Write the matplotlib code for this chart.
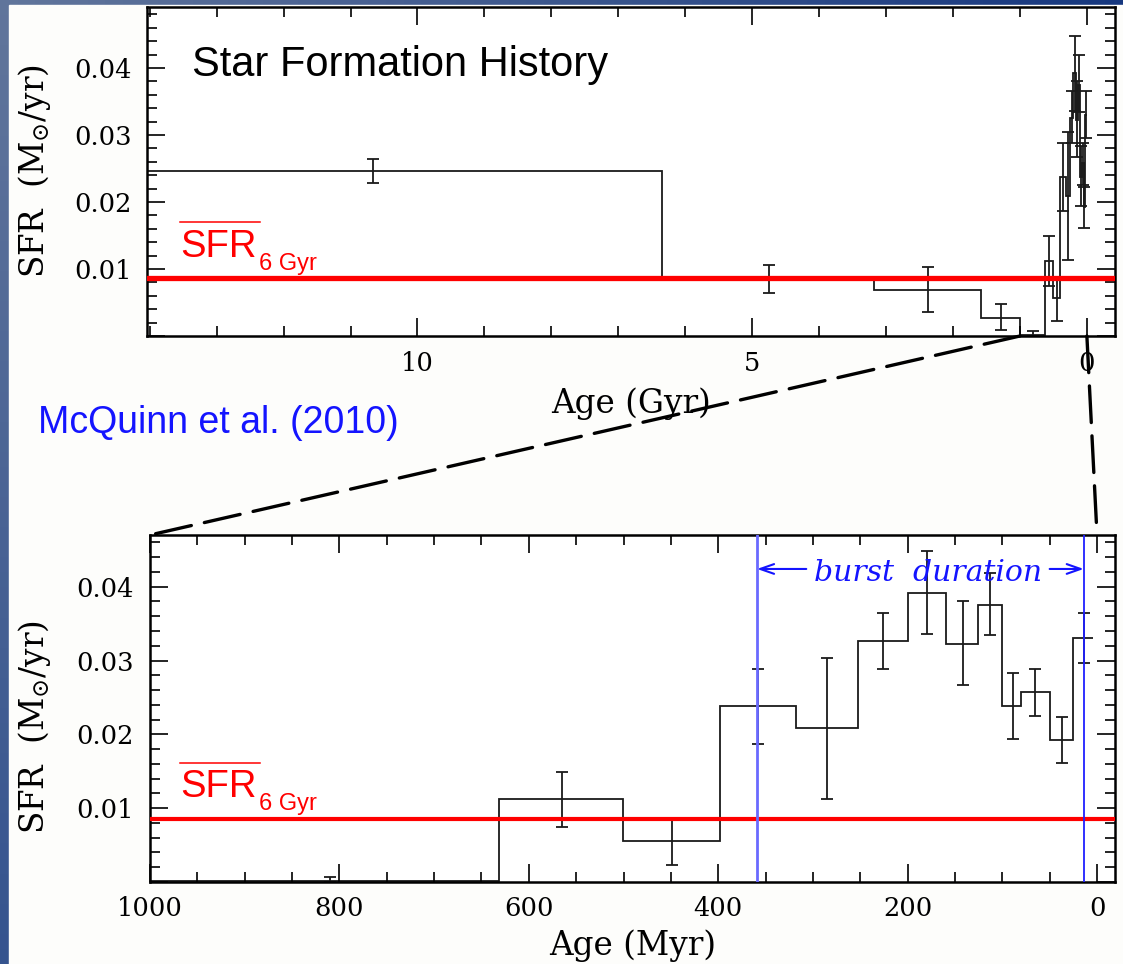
import numpy as np
import matplotlib
matplotlib.use("Agg")
import matplotlib.pyplot as plt
from matplotlib.patches import Rectangle, ConnectionPatch
from matplotlib.lines import Line2D
from matplotlib.ticker import MultipleLocator, FuncFormatter

plt.rcParams["font.family"] = ["DejaVu Serif"]

W, H = 1123, 964

# --- data --------------------------------------------------------------------
# old bins (Gyr), oldest first; the last one ends at 1 Gyr where the recent bins start
old_edges = [14.1, 6.34, 3.18, 1.58]
old_sfr = [0.0246, 0.0087, 0.0069, 0.0027]
old_err_age = [10.67, 4.75, 2.37, 1.28]
old_err_lo = [0.0228, 0.0064, 0.0036, 0.0009]
old_err_hi = [0.0264, 0.0106, 0.0103, 0.0048]

# recent bins (Myr)
recent_edges = [1000, 631, 501, 398, 318, 252, 200, 159, 126, 100, 80, 50, 25, 4]
recent_sfr = [0.0002, 0.0112, 0.0056, 0.0238, 0.0209, 0.0326, 0.0392,
              0.0323, 0.0375, 0.0238, 0.0258, 0.0193, 0.0330]
recent_err_age = [810, 565, 449, 358, 285, 226, 180, 142, 113, 89, 65, 37, 14]
recent_err_lo = [0.0, 0.0074, 0.0023, 0.0187, 0.0113, 0.0288, 0.0336,
                 0.0267, 0.0334, 0.0194, 0.0225, 0.0161, 0.0296]
recent_err_hi = [0.0007, 0.0149, 0.0087, 0.0288, 0.0304, 0.0365, 0.0448,
                 0.0380, 0.0419, 0.0283, 0.0288, 0.0223, 0.0365]

sfr_mean_6gyr = 0.0086
burst_start, burst_end = 359, 14   # Myr

HIST = "#1a1a1a"
RED = "#ff0000"
BLUE = "#1414ff"


def px(x, y):
    return x / W, 1 - y / H


fig = plt.figure(figsize=(W / 100, H / 100), dpi=100)

# slide background: blue frame on the left/top, white page
bg = fig.add_axes([0, 0, 1, 1], zorder=-10)
uu, vv = np.meshgrid(np.linspace(0, 1, 64), np.linspace(0, 1, 64))
c_tl = np.array([0.38, 0.46, 0.61]); c_tr = np.array([0.09, 0.22, 0.50])
c_bl = np.array([0.21, 0.33, 0.56]); c_br = np.array([0.10, 0.20, 0.45])
img = (c_tl * ((1 - uu) * (1 - vv))[..., None] + c_tr * (uu * (1 - vv))[..., None]
       + c_bl * ((1 - uu) * vv)[..., None] + c_br * (uu * vv)[..., None])
bg.imshow(img, extent=[0, 1, 0, 1], aspect="auto", origin="upper")
bg.add_patch(Rectangle((9 / W, 0), 1, 1 - 5 / H, color="#fdfdfb"))
bg.set_xlim(0, 1); bg.set_ylim(0, 1)
bg.axis("off")

ax1 = fig.add_axes([147 / W, 1 - 336 / H, 968 / W, 329 / H])
ax2 = fig.add_axes([150 / W, 1 - 882 / H, 965 / W, 347 / H])


def style(ax, xmaj, xmin, ylab_pad, xlab_pad):
    ax.xaxis.set_major_locator(MultipleLocator(xmaj))
    ax.xaxis.set_minor_locator(MultipleLocator(xmin))
    ax.yaxis.set_major_locator(MultipleLocator(0.01))
    ax.yaxis.set_minor_locator(MultipleLocator(0.002))
    ax.xaxis.set_major_formatter(FuncFormatter(lambda v, p: f"{v:g}"))
    ax.yaxis.set_major_formatter(FuncFormatter(lambda v, p: "" if abs(v) < 1e-9 else f"{v:.2f}"))
    ax.tick_params(which="both", direction="in", top=True, right=True,
                   width=1.2, colors="black", labelsize=18.5)
    ax.tick_params(which="major", length=13)
    ax.tick_params(which="minor", length=7)
    ax.tick_params(axis="y", pad=ylab_pad)
    ax.tick_params(axis="x", pad=xlab_pad)
    for s in ax.spines.values():
        s.set_linewidth(1.8)


# --- top panel: full history in Gyr -------------------------------------------
edges_gyr = old_edges + [e / 1000 for e in recent_edges]
sfr_all = old_sfr + recent_sfr
ax1.stairs(sfr_all[::-1], edges_gyr[::-1], baseline=None, color=HIST, lw=1.3)
err_age_gyr = old_err_age + [a / 1000 for a in recent_err_age]
lo_all = np.array(old_err_lo + recent_err_lo)
hi_all = np.array(old_err_hi + recent_err_hi)
ax1.errorbar(err_age_gyr, (lo_all + hi_all) / 2, yerr=(hi_all - lo_all) / 2,
             fmt="none", ecolor=HIST, elinewidth=1.3, capsize=4, capthick=1.3)
ax1.axhline(sfr_mean_6gyr, color=RED, lw=3.8, zorder=5)
ax1.set_xlim(14.04, -0.42)
ax1.set_ylim(0, 0.0491)
style(ax1, 5, 1, 11, 11)
ax1.set_xlabel("Age (Gyr)", fontsize=23.5)
ax1.xaxis.set_label_coords(0.5, -0.155)
ax1.set_ylabel(r"SFR  (M$_{\odot}$/yr)", fontsize=23.5, math_fontfamily="dejavuserif")
ax1.yaxis.set_label_coords(-0.097, 0.5)

# --- bottom panel: last Gyr in Myr ---------------------------------------------
ax2.stairs(recent_sfr[::-1], recent_edges[::-1], baseline=None, color=HIST, lw=1.3)
lo_r = np.array(recent_err_lo); hi_r = np.array(recent_err_hi)
ax2.errorbar(recent_err_age, (lo_r + hi_r) / 2, yerr=(hi_r - lo_r) / 2,
             fmt="none", ecolor=HIST, elinewidth=1.3, capsize=4, capthick=1.3)
ax2.axhline(sfr_mean_6gyr, color=RED, lw=3.0, zorder=5)
ax2.axvline(burst_start, color="#6a6aff", lw=2.0, zorder=6)
ax2.axvline(burst_end, color="#2020ff", lw=1.3, zorder=6)
ax2.set_xlim(1000, -19)
ax2.set_ylim(0, 0.047)
style(ax2, 200, 50, 12, 10)
ax2.set_xlabel("Age (Myr)", fontsize=23.5)
ax2.xaxis.set_label_coords(0.5, -0.135)
ax2.set_ylabel(r"SFR  (M$_{\odot}$/yr)", fontsize=23.5, math_fontfamily="dejavuserif")
ax2.yaxis.set_label_coords(-0.1005, 0.447)

# burst duration arrows + label
arr_y = 0.0424
akw = dict(arrowstyle="->,head_length=1.0,head_width=0.35", color=BLUE, lw=1.5,
           shrinkA=0, shrinkB=0)
ax2.annotate("", xy=(burst_start, arr_y), xytext=(307, arr_y), arrowprops=akw)
ax2.annotate("", xy=(burst_end, arr_y), xytext=(50, arr_y), arrowprops=akw)
ax2.text(178, 0.0419, "burst  duration", color=BLUE, fontsize=21.5, style="italic",
         ha="center", va="center")

# zoom connectors (1 Gyr -> 1000 Myr, 0 -> 0)
for a_top, a_bot in [(1.0, 1000), (0.0, 0)]:
    con = ConnectionPatch(xyA=(a_top, 0), coordsA=ax1.transData,
                          xyB=(a_bot, 0.047), coordsB=ax2.transData,
                          color="black", lw=2.4, linestyle=(0, (11, 4)), zorder=20)
    fig.add_artist(con)

# --- slide annotations ------------------------------------------------------------
fig.text(*px(192, 76), "Star Formation History", family="Liberation Sans",
         fontsize=30, color="black", va="baseline")
fig.text(*px(38, 433), "McQuinn et al. (2010)", family="Liberation Sans",
         fontsize=27, color=BLUE, va="baseline")

for base_y, bar_y in [(257, 222), (797, 763)]:
    fig.text(*px(180, base_y), "SFR", family="Liberation Sans", fontsize=27.5,
             color=RED, va="baseline")
    fig.text(*px(259, base_y + 13), "6 Gyr", family="Liberation Sans", fontsize=17,
             color=RED, va="baseline")
    x0, y0 = px(180, bar_y)
    x1, _ = px(260, bar_y)
    fig.add_artist(Line2D([x0, x1], [y0, y0], color=RED, lw=1.1,
                          transform=fig.transFigure))

fig.savefig("out.png", dpi=100, facecolor="white")
